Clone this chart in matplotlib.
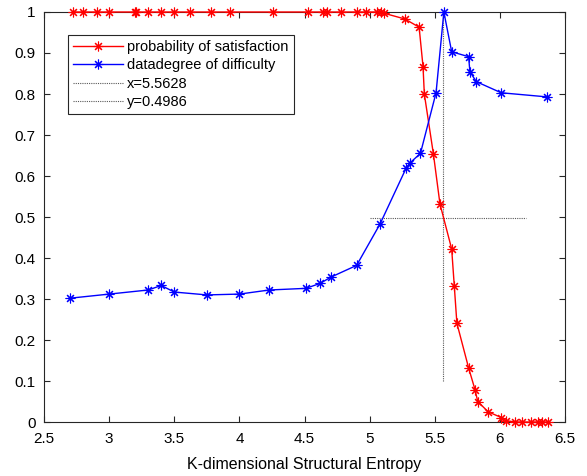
"""Satisfaction probability vs difficulty over K-dimensional structural entropy."""

import matplotlib

matplotlib.use("Agg")
import matplotlib.pyplot as plt

plt.rcParams["font.family"] = ["Liberation Sans", "DejaVu Sans"]

# probability of satisfaction
sat_x = [2.72, 2.80, 2.91, 3.00, 3.20, 3.21, 3.30, 3.40, 3.50, 3.62, 3.78, 3.93,
         4.26, 4.53, 4.64, 4.67, 4.78, 4.90, 4.97, 5.06, 5.09, 5.11,
         5.27, 5.38, 5.41, 5.42, 5.49, 5.54, 5.63, 5.65, 5.67, 5.76,
         5.81, 5.83, 5.91, 6.01, 6.05, 6.12, 6.17, 6.24, 6.29, 6.32, 6.37]
sat_y = [1.0, 1.0, 1.0, 1.0, 1.0, 1.0, 1.0, 1.0, 1.0, 1.0, 1.0, 1.0,
         1.0, 1.0, 1.0, 1.0, 1.0, 1.0, 1.0, 1.0, 1.0, 0.997,
         0.983, 0.963, 0.867, 0.80, 0.653, 0.532, 0.422, 0.332, 0.241, 0.132,
         0.078, 0.05, 0.025, 0.011, 0.003, 0.0, 0.0, 0.0, 0.0, 0.0, 0.0]

# degree of difficulty
dif_x = [2.70, 3.00, 3.30, 3.40, 3.50, 3.75, 4.00, 4.23, 4.51, 4.62, 4.70, 4.90,
         5.08, 5.28, 5.31, 5.39, 5.51, 5.57, 5.63, 5.76, 5.77, 5.82, 6.01, 6.36]
dif_y = [0.302, 0.312, 0.322, 0.333, 0.317, 0.310, 0.312, 0.322, 0.326, 0.338,
         0.353, 0.382, 0.483, 0.619, 0.632, 0.655, 0.803, 1.0, 0.903, 0.891,
         0.854, 0.830, 0.803, 0.793]

cross_x = 5.5628
cross_y = 0.4986

star = (8, 2, 0)

fig = plt.figure(figsize=(5.87, 4.76), dpi=100)
ax = fig.add_axes([0.075, 0.1134, 0.8875, 0.8614])

ax.plot(sat_x, sat_y, color="red", lw=1, marker=star, ms=7, mew=0.8,
        clip_on=False, zorder=3, label="probability of satisfaction")
ax.plot(dif_x, dif_y, color="blue", lw=1, marker=star, ms=7, mew=0.8,
        clip_on=False, zorder=3, label="datadegree of difficulty")
ax.plot([cross_x, cross_x], [0.1, 1.0], color="0.35", lw=0.8, ls=(0, (1, 1)),
        label=f"x={cross_x}")
ax.plot([5.0, 6.2], [cross_y, cross_y], color="0.35", lw=0.8, ls=(0, (1, 1)),
        label=f"y={cross_y}")

ax.set_xlim(2.5, 6.5)
ax.set_ylim(0, 1)
ax.set_xticks([2.5, 3, 3.5, 4, 4.5, 5, 5.5, 6, 6.5])
ax.set_xticklabels(["2.5", "3", "3.5", "4", "4.5", "5", "5.5", "6", "6.5"])
ax.set_yticks([i / 10 for i in range(11)])
ax.set_yticklabels(["0", "0.1", "0.2", "0.3", "0.4", "0.5", "0.6", "0.7", "0.8", "0.9", "1"])
ax.tick_params(direction="in", top=True, right=True, length=4, width=0.8,
               colors="0.15", labelsize=11, labelcolor="black")
ax.tick_params(axis="x", pad=7)
ax.tick_params(axis="y", pad=6)
for s in ax.spines.values():
    s.set_color("0.15")
    s.set_linewidth(0.8)
ax.set_xlabel("K-dimensional Structural Entropy", fontsize=11.5, labelpad=8)

leg = ax.legend(loc="upper left", bbox_to_anchor=(0.046, 0.944), fontsize=10.5,
                handlelength=3.4, handletextpad=0.3, borderpad=0.35,
                borderaxespad=0, labelspacing=0.3, fancybox=False, framealpha=1)
leg.get_frame().set_edgecolor("0.15")
leg.get_frame().set_linewidth(0.8)

fig.savefig("out.png", dpi=100)
